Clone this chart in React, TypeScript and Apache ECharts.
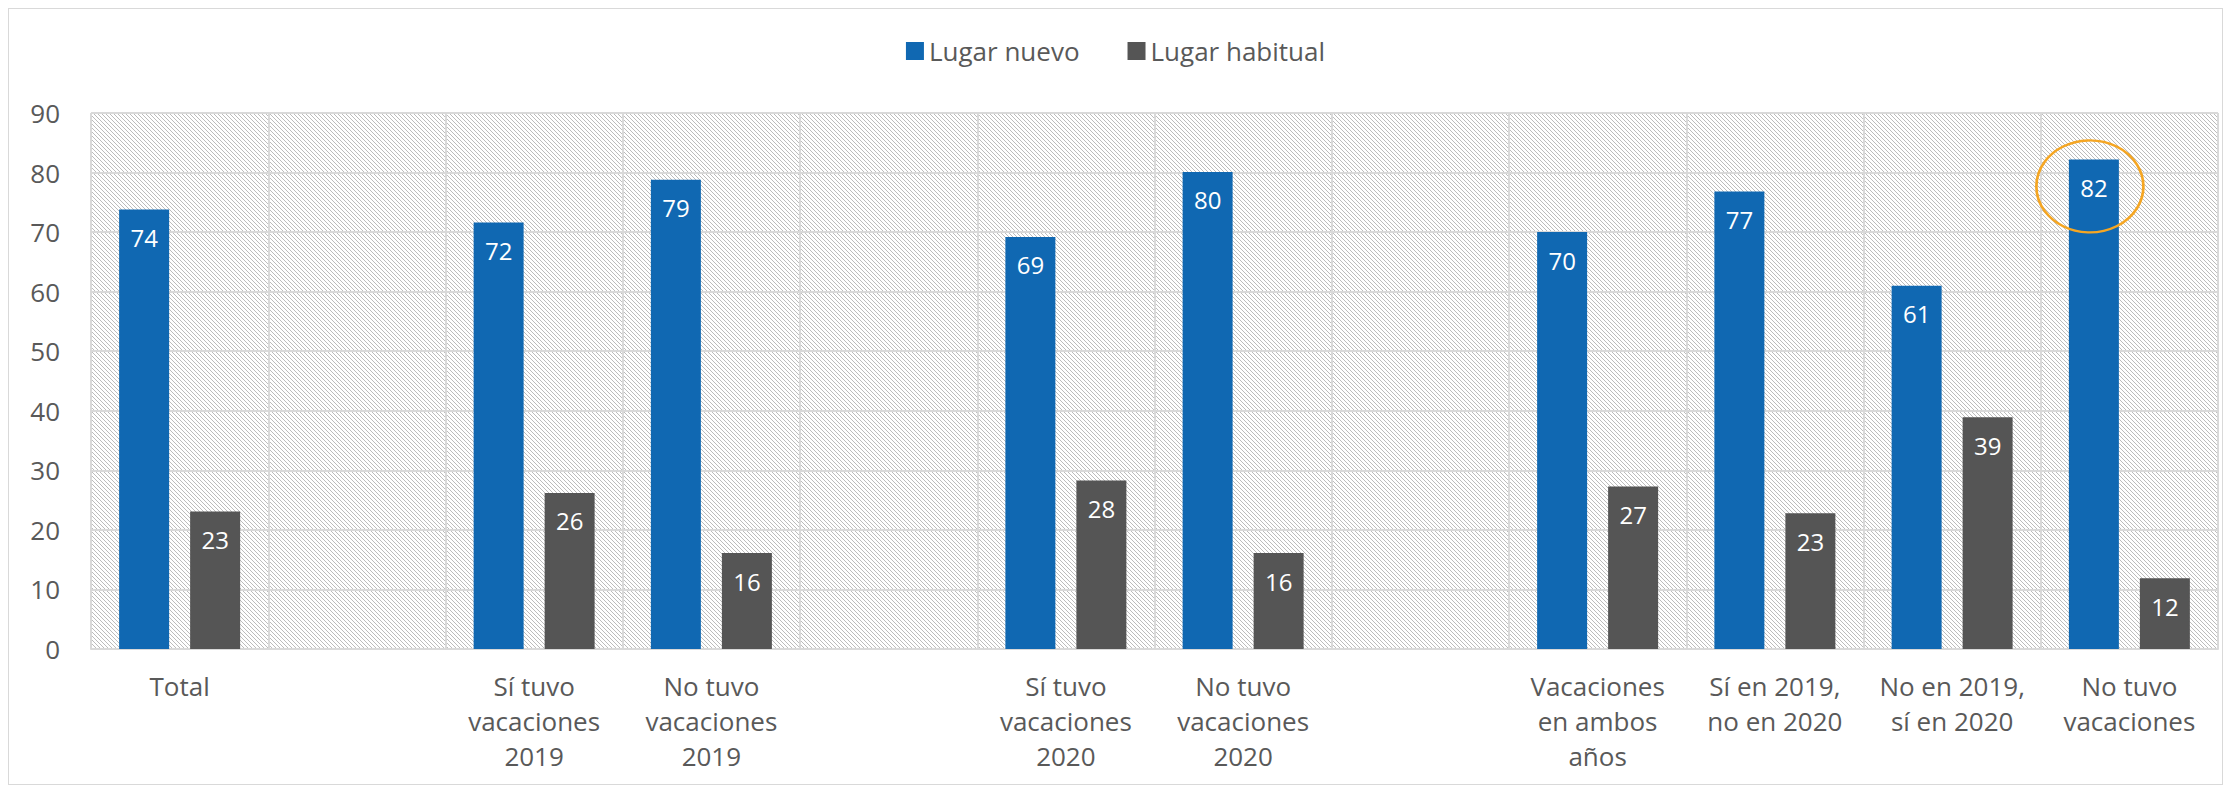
import React, { useEffect, useRef } from "react";
import * as echarts from "echarts";

const categories = [
  "Total",
  "",
  "Sí tuvo\nvacaciones\n2019",
  "No tuvo\nvacaciones\n2019",
  "",
  "Sí tuvo\nvacaciones\n2020",
  "No tuvo\nvacaciones\n2020",
  "",
  "Vacaciones\nen ambos\naños",
  "Sí en 2019,\nno en 2020",
  "No en 2019,\nsí en 2020",
  "No tuvo\nvacaciones",
];

const seriesNames = ["Lugar nuevo", "Lugar habitual"];
const lugarNuevo = [73.8, null, 71.6, 78.8, null, 69.2, 80.1, null, 70.0, 76.8, 61.0, 82.2];
const lugarHabitual = [23.1, null, 26.2, 16.1, null, 28.3, 16.1, null, 27.3, 22.8, 38.9, 11.9];
const yTicks = { min: 0, max: 90, interval: 10 };
const highlightIndex = 11;

const FONT = "'Open Sans', 'Noto Sans', sans-serif";
const TEXT = "#595959";
const GRID_LINE = "#d9d9d9";

function makeHatch(): HTMLCanvasElement {
  const c = document.createElement("canvas");
  c.width = 8;
  c.height = 8;
  const ctx = c.getContext("2d")!;
  ctx.fillStyle = "#ffffff";
  ctx.fillRect(0, 0, 8, 8);
  const img = ctx.getImageData(0, 0, 8, 8);
  for (let y = 0; y < 8; y++) {
    for (let x = 0; x < 8; x++) {
      if (((x - y) % 4 + 4) % 4 === 0) {
        const i = (y * 8 + x) * 4;
        img.data[i] = 188;
        img.data[i + 1] = 188;
        img.data[i + 2] = 188;
        img.data[i + 3] = 255;
      }
    }
  }
  ctx.putImageData(img, 0, 0);
  return c;
}

export default function App() {
  const ref = useRef<HTMLDivElement>(null);

  useEffect(() => {
    if (!ref.current) return;
    const chart = echarts.init(ref.current, null, { renderer: "svg" });
    const hatch = makeHatch();

    const labelCfg = {
      show: true,
      position: "insideTop" as const,
      distance: 16,
      color: "#ffffff",
      fontFamily: FONT,
      fontSize: 24,
      formatter: (p: any) => (p.value == null ? "" : String(Math.round(p.value))),
    };

    chart.setOption({
      animation: false,
      textStyle: { fontFamily: FONT },
      legend: {
        top: 24,
        left: "center",
        itemWidth: 18,
        itemHeight: 18,
        itemGap: 48,
        icon: "rect",
        textStyle: { color: TEXT, fontSize: 26, fontFamily: FONT, lineHeight: 26, padding: [0, 0, 0, 0] },
        data: seriesNames,
      },
      grid: {
        left: 82,
        right: 4,
        top: 104,
        bottom: 135,
        show: true,
        borderWidth: 0,
        backgroundColor: { image: hatch, repeat: "repeat" },
      },
      xAxis: {
        type: "category",
        data: categories,
        axisLine: { show: true, lineStyle: { color: GRID_LINE, width: 2 } },
        axisTick: { show: false },
        splitLine: { show: true, interval: 0, lineStyle: { color: GRID_LINE, width: 2 } },
        axisLabel: {
          interval: 0,
          color: TEXT,
          fontSize: 26,
          fontFamily: FONT,
          lineHeight: 35,
          margin: 19,
        },
      },
      yAxis: {
        type: "value",
        min: yTicks.min,
        max: yTicks.max,
        interval: yTicks.interval,
        axisLine: { show: false },
        axisTick: { show: false },
        splitLine: { show: true, lineStyle: { color: GRID_LINE, width: 2 } },
        axisLabel: { color: TEXT, fontSize: 26, fontFamily: FONT, margin: 31 },
      },
      series: [
        {
          name: seriesNames[0],
          type: "bar",
          data: lugarNuevo,
          barWidth: 50,
          barGap: "42%",
          itemStyle: { color: "#1068B2" },
          label: labelCfg,
          markPoint: {
            symbol: "circle",
            symbolSize: [107, 92],
            symbolOffset: [-4, 27],
            silent: true,
            label: { show: false },
            itemStyle: { color: "rgba(0,0,0,0)", borderColor: "#F5A623", borderWidth: 2.5 },
            data: [{ coord: [highlightIndex, lugarNuevo[highlightIndex]] }],
          },
        },
        {
          name: seriesNames[1],
          type: "bar",
          data: lugarHabitual,
          barWidth: 50,
          barGap: "42%",
          itemStyle: { color: "#555555" },
          label: labelCfg,
        },
      ],
    });

    return () => chart.dispose();
  }, []);

  return (
    <div
      ref={ref}
      style={{
        width: 2215,
        height: 777,
        boxSizing: "border-box",
        border: "1px solid #d9d9d9",
      }}
    />
  );
}
